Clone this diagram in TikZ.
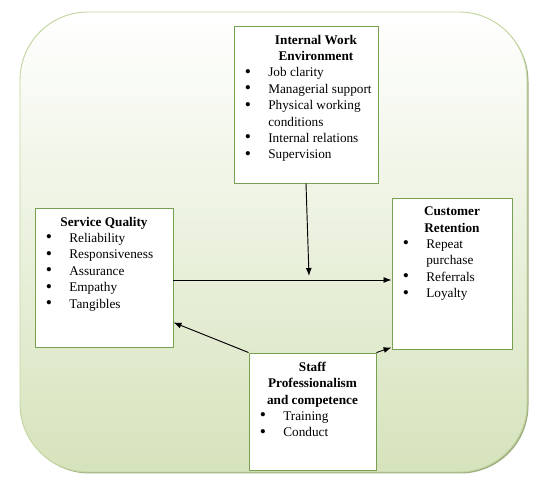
\documentclass[tikz,border=0pt]{standalone}
\usepackage{fontspec}
\setmainfont{Liberation Serif}
\usetikzlibrary{shapes,arrows,arrows.meta,positioning,calc}
\definecolor{boxgreen}{RGB}{119,160,82}
\definecolor{framegreen}{RGB}{196,214,160}
\definecolor{bggreen}{RGB}{214,227,188}
\definecolor{shadowgreen}{RGB}{160,175,130}
\newcommand{\itm}[1]{\par\hangindent=1.03cm\hangafter=1\noindent\makebox[1.03cm][l]{\hspace{0.33cm}\raisebox{-0.3pt}{\fontsize{15}{14}\selectfont\textbullet}}#1}
\newcommand{\boxtext}[3]{\parbox[c][#2][t]{#1}{\vspace*{0.27cm}#3}}
\tikzset{
    factor/.style={rectangle, draw=boxgreen, fill=white, inner sep=0pt, line width=0.8pt, font=\fontsize{11.3}{14}\selectfont},
    line/.style={draw, -{Latex[length=2.4mm, width=1.8mm]}, line width=0.8pt},
    frame/.style={draw=framegreen, line width=0.8pt, rounded corners=2.04cm, top color=white, bottom color=bggreen}
}

\begin{document}
\begin{tikzpicture}[x=0.03cm, y=0.03cm]
    \useasboundingbox (0,0) rectangle (551,486);
    % background panel
    \fill [shadowgreen, rounded corners=2.04cm] (21.5,12.5) rectangle (528.5,472.5);
    \path [frame] (20,14) rectangle (527,474);

    \node [factor] (work) at (306,381.5) {\boxtext{4.32cm}{4.71cm}{%
        {\centering\leftskip=0.6cm plus 1fil\bfseries Internal Work\\Environment\par}\raggedright
        \itm{Job clarity}
        \itm{Managerial support}
        \itm{Physical working\newline conditions}
        \itm{Internal relations}
        \itm{Supervision}}};
    \node [factor] (service) at (104,208.5) {\boxtext{4.14cm}{4.17cm}{%
        {\centering\bfseries Service Quality\par}\raggedright
        \itm{Reliability}
        \itm{Responsiveness}
        \itm{Assurance}
        \itm{Empathy}
        \itm{Tangibles}}};
    \node [factor] (retention) at (452,212.5) {\boxtext{3.6cm}{4.53cm}{%
        {\centering\bfseries Customer\\Retention\par}\raggedright
        \itm{Repeat\newline purchase}
        \itm{Referrals}
        \itm{Loyalty}}};
    \node [factor] (staff) at (312.5,74.5) {\boxtext{3.81cm}{3.51cm}{%
        {\centering\bfseries Staff\\Professionalism\\and competence\par}\raggedright
        \itm{Training}
        \itm{Conduct}}};
    \coordinate (meet) at (309,210);

    \path [line] (work.south) -- (meet);
    \path [line] ([yshift=-0.075cm]service.east) -- ([yshift=-0.075cm]service.east -| retention.west);
    \path [line] (staff.north west) -- ([yshift=0.75cm]service.south east);
    \path [line] (staff.north east) -- ([yshift=0.06cm]retention.south west);
\end{tikzpicture}
\end{document}
